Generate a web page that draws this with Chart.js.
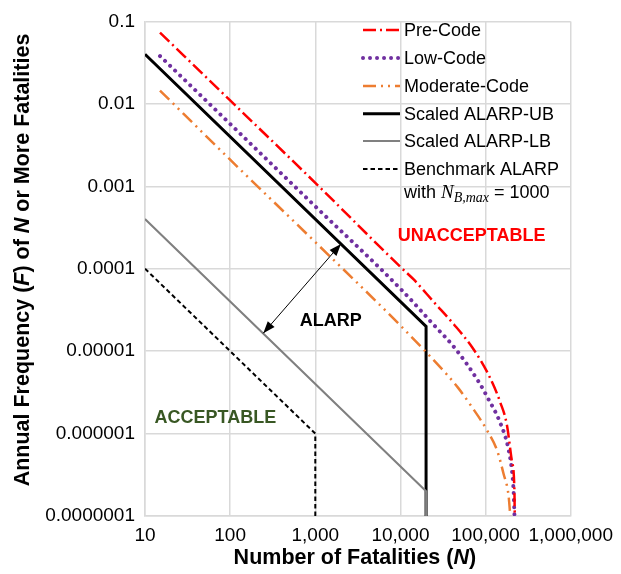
<!DOCTYPE html>
<html>
<head>
<meta charset="utf-8">
<script src="https://cdn.jsdelivr.net/npm/chart.js@4.4.1/dist/chart.umd.min.js"></script>
<style>
  body { margin: 0; background: #fff; }
</style>
</head>
<body>
<canvas id="fnChart" width="621" height="574"></canvas>
<script>
// values
const preCodeN = [15, 100, 1000, 10000, 14400, 24650, 42300, 70500, 108000, 148500, 177500, 203000, 218000, 220000];
const preCodeF = [0.073, 0.011, 0.0011, 0.000105, 0.0000735, 0.0000394, 0.0000212, 0.0000109, 0.0000052, 0.0000024, 0.00000129, 0.00000047, 0.000000205, 0.0000001];

const lowCodeN = [15, 100, 1000, 10050, 24200, 44200, 82800, 106400, 148600, 185800, 207000, 212500, 218500];
const lowCodeF = [0.038, 0.0057, 0.00057, 0.0000568, 0.0000212, 0.0000107, 0.00000426, 0.00000269, 0.00000135, 0.000000647, 0.00000031, 0.000000215, 0.0000001];

const modCodeN = [15, 100, 1000, 10050, 36200, 47400, 67300, 106400, 138000, 162500, 186000, 193600, 195000];
const modCodeF = [0.0145, 0.0021, 0.00021, 0.0000203, 0.00000502, 0.00000361, 0.00000218, 0.00000105, 0.000000605, 0.000000325, 0.000000178, 0.00000011, 0.0000001];

const alarpUbN = [10, 20000, 20000];
const alarpUbF = [0.04, 0.00002, 0.0000001];
const alarpLbN = [10, 20000, 20000];
const alarpLbF = [0.0004, 0.0000002, 0.0000001];
const benchN = [10, 1000, 1000];
const benchF = [0.0001, 0.000001, 0.0000001];

const xTickValues = [10, 100, 1000, 10000, 100000, 1000000];
const xTickLabels = ['10', '100', '1,000', '10,000', '100,000', '1,000,000'];
const yTickValues = [0.1, 0.01, 0.001, 0.0001, 0.00001, 0.000001, 0.0000001];
const yTickLabels = ['0.1', '0.01', '0.001', '0.0001', '0.00001', '0.000001', '0.0000001'];

// double arrow between the scaled ALARP lines, and the region labels (data coords)
const arrowFrom = [245, 0.0000165];
const arrowTo = [2000, 0.0002];
const regionLabels = [
  { text: 'UNACCEPTABLE', n: 68500, f: 0.00025, color: '#ff0000' },
  { text: 'ALARP', n: 1517, f: 0.0000229, color: '#000000' },
  { text: 'ACCEPTABLE', n: 67, f: 0.00000155, color: '#385723' }
];

const FONT = '"Liberation Sans", Arial, sans-serif';

function pts(ns, fs) {
  return ns.map((n, i) => ({ x: n, y: fs[i] }));
}

function drawRich(ctx, segs, cx, cy, size) {
  let total = 0;
  segs.forEach(s => {
    ctx.font = (s[1] ? 'italic ' : '') + 'bold ' + size + 'px ' + FONT;
    total += ctx.measureText(s[0]).width;
  });
  let x = cx - total / 2;
  segs.forEach(s => {
    ctx.font = (s[1] ? 'italic ' : '') + 'bold ' + size + 'px ' + FONT;
    ctx.fillText(s[0], x, cy);
    x += ctx.measureText(s[0]).width;
  });
}

function arrowHead(ctx, x0, y0, x1, y1) {
  const a = Math.atan2(y1 - y0, x1 - x0);
  const len = 12, w = 4.5;
  ctx.beginPath();
  ctx.moveTo(x1, y1);
  ctx.lineTo(x1 - len * Math.cos(a) + w * Math.sin(a), y1 - len * Math.sin(a) - w * Math.cos(a));
  ctx.lineTo(x1 - len * Math.cos(a) - w * Math.sin(a), y1 - len * Math.sin(a) + w * Math.cos(a));
  ctx.closePath();
  ctx.fill();
}

const overlay = {
  id: 'overlay',
  afterDatasetsDraw(chart) {
    const { ctx, chartArea, scales: { x, y } } = chart;
    ctx.save();

    // arrow
    const ax0 = x.getPixelForValue(arrowFrom[0]), ay0 = y.getPixelForValue(arrowFrom[1]);
    const ax1 = x.getPixelForValue(arrowTo[0]), ay1 = y.getPixelForValue(arrowTo[1]);
    ctx.strokeStyle = '#000';
    ctx.fillStyle = '#000';
    ctx.lineWidth = 1;
    ctx.beginPath();
    ctx.moveTo(ax0, ay0);
    ctx.lineTo(ax1, ay1);
    ctx.stroke();
    arrowHead(ctx, ax0, ay0, ax1, ay1);
    arrowHead(ctx, ax1, ay1, ax0, ay0);

    // region labels
    ctx.textAlign = 'center';
    ctx.textBaseline = 'middle';
    ctx.font = 'bold 18px ' + FONT;
    regionLabels.forEach(l => {
      ctx.fillStyle = l.color;
      ctx.fillText(l.text, x.getPixelForValue(l.n), y.getPixelForValue(l.f));
    });

    // legend, drawn over the grid
    const lx0 = chartArea.left + 218, lx1 = chartArea.left + 255, tx = chartArea.left + 259;
    const rowY = [30, 58, 86, 113.7, 141, 169];
    chart.data.datasets.forEach((ds, i) => {
      ctx.save();
      ctx.strokeStyle = ds.borderColor;
      ctx.lineWidth = ds.borderWidth;
      ctx.setLineDash(ds.borderDash || []);
      ctx.lineCap = ds.borderCapStyle || 'butt';
      ctx.beginPath();
      ctx.moveTo(lx0, rowY[i]);
      ctx.lineTo(lx1, rowY[i]);
      ctx.stroke();
      ctx.restore();
      ctx.fillStyle = '#000';
      ctx.textAlign = 'left';
      ctx.font = '18px ' + FONT;
      ctx.fillText(ds.label, tx, rowY[i] + 1);
    });
    // "with N_B,max = 1000"
    let wx = tx;
    const wy = 193;
    ctx.font = '18px ' + FONT;
    ctx.fillText('with ', wx, wy);
    wx += ctx.measureText('with ').width;
    ctx.font = 'italic 19px "Liberation Serif", serif';
    ctx.fillText('N', wx, wy);
    wx += ctx.measureText('N').width;
    ctx.font = 'italic 14px "Liberation Serif", serif';
    ctx.fillText('B,max', wx, wy + 5);
    wx += ctx.measureText('B,max').width;
    ctx.font = '18px ' + FONT;
    ctx.fillText(' = 1000', wx, wy);

    ctx.restore();
  },
  afterDraw(chart) {
    const { ctx, chartArea } = chart;
    ctx.save();
    ctx.fillStyle = '#000';
    ctx.textAlign = 'left';
    ctx.textBaseline = 'middle';
    drawRich(ctx, [['Number of Fatalities (', false], ['N', true], [')', false]],
      (chartArea.left + chartArea.right) / 2 - 3, 558, 21.5);
    ctx.translate(23, 260);
    ctx.rotate(-Math.PI / 2);
    drawRich(ctx, [['Annual Frequency (', false], ['F', true], [') of ', false], ['N', true], [' or More Fatalities', false]],
      0, 0, 21.5);
    ctx.restore();
  }
};

const ctx = document.getElementById('fnChart').getContext('2d');

const fnChart = new Chart(ctx, {
  type: 'line',
  data: {
    datasets: [
      { label: 'Pre-Code', data: pts(preCodeN, preCodeF), borderColor: '#ff0000', borderWidth: 2.5,
        borderDash: [13, 4, 2, 4], cubicInterpolationMode: 'monotone', order: 1 },
      { label: 'Low-Code', data: pts(lowCodeN, lowCodeF), borderColor: '#7030a0', borderWidth: 4,
        borderDash: [0.01, 7], borderCapStyle: 'round', cubicInterpolationMode: 'monotone', order: 2 },
      { label: 'Moderate-Code', data: pts(modCodeN, modCodeF), borderColor: '#ed7d31', borderWidth: 2.5,
        borderDash: [13, 5, 2, 5, 2, 5], cubicInterpolationMode: 'monotone', order: 3 },
      { label: 'Scaled ALARP-UB', data: pts(alarpUbN, alarpUbF), borderColor: '#000000', borderWidth: 3, order: 5 },
      { label: 'Scaled ALARP-LB', data: pts(alarpLbN, alarpLbF), borderColor: '#808080', borderWidth: 2, order: 4 },
      { label: 'Benchmark ALARP', data: pts(benchN, benchF), borderColor: '#000000', borderWidth: 2,
        borderDash: [4.5, 3], order: 6 }
    ]
  },
  options: {
    responsive: false,
    animation: false,
    devicePixelRatio: 1,
    layout: { padding: { top: 15, right: 48, left: 0, bottom: 0 } },
    elements: { point: { radius: 0, hoverRadius: 0 }, line: { tension: 0 } },
    scales: {
      x: {
        type: 'logarithmic',
        min: 10,
        max: 1000000,
        afterBuildTicks: s => { s.ticks = xTickValues.map(v => ({ value: v })); },
        afterFit: s => { s.height = 58; },
        ticks: {
          autoSkip: false,
          maxRotation: 0,
          padding: 8,
          color: '#000',
          font: { family: FONT, size: 19 },
          callback: v => { const i = xTickValues.indexOf(v); return i >= 0 ? xTickLabels[i] : ''; }
        },
        grid: { color: '#d9d9d9', lineWidth: 1.5, drawTicks: false },
        border: { color: '#d9d9d9', width: 1.5 }
      },
      y: {
        type: 'logarithmic',
        min: 0.0000001,
        max: 0.1,
        afterBuildTicks: s => { s.ticks = yTickValues.map(v => ({ value: v })); },
        afterFit: s => { s.width = 145; },
        ticks: {
          autoSkip: false,
          padding: 10,
          color: '#000',
          font: { family: FONT, size: 19 },
          callback: v => { const i = yTickValues.indexOf(v); return i >= 0 ? yTickLabels[i] : ''; }
        },
        grid: { color: '#d9d9d9', lineWidth: 1.5, drawTicks: false },
        border: { color: '#d9d9d9', width: 1.5 }
      }
    },
    plugins: { legend: { display: false }, tooltip: { enabled: false } }
  },
  plugins: [overlay]
});
</script>
</body>
</html>
